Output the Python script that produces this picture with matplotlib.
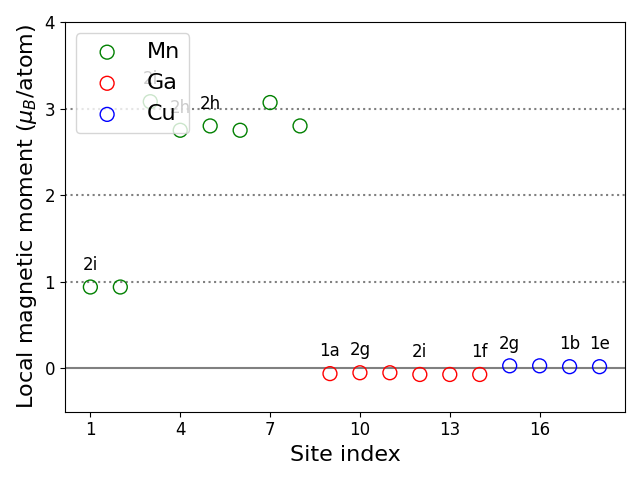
import matplotlib
matplotlib.use("Agg")
import matplotlib.pyplot as plt

mn_sites = [1, 2, 3, 4, 5, 6, 7, 8]
mn_vals = [0.94, 0.94, 3.08, 2.75, 2.80, 2.75, 3.07, 2.80]
ga_sites = [9, 10, 11, 12, 13, 14]
ga_vals = [-0.06, -0.05, -0.05, -0.07, -0.07, -0.07]
cu_sites = [15, 16, 17, 18]
cu_vals = [0.03, 0.03, 0.02, 0.02]

label_sites = [1, 3, 4, 5, 9, 10, 12, 14, 15, 17, 18]
label_texts = ["2i", "2i", "2h", "2h", "1a", "2g", "2i", "1f", "2g", "1b", "1e"]

fig, ax = plt.subplots(figsize=(6.4, 4.8), dpi=100)
for y in [1, 2, 3]:
    ax.axhline(y, color="gray", linestyle=":", linewidth=1.5, zorder=0)
ax.axhline(0, color="gray", linewidth=1.5, zorder=0)

ax.scatter(mn_sites, mn_vals, s=100, facecolors="none", edgecolors="green", label="Mn")
ax.scatter(ga_sites, ga_vals, s=100, facecolors="none", edgecolors="red", label="Ga")
ax.scatter(cu_sites, cu_vals, s=100, facecolors="none", edgecolors="blue", label="Cu")

all_sites = mn_sites + ga_sites + cu_sites
all_vals = mn_vals + ga_vals + cu_vals
for s, t in zip(label_sites, label_texts):
    v = all_vals[all_sites.index(s)]
    ax.text(s, v + 0.2, t, ha="center", va="baseline", fontsize=12)

ax.set_ylim(-0.5, 4)
ax.set_xticks([1, 4, 7, 10, 13, 16])
ax.set_yticks([0, 1, 2, 3, 4])
ax.tick_params(labelsize=12)
ax.set_xlabel("Site index", fontsize=16)
ax.set_ylabel(r"Local magnetic moment ($\mu_B$/atom)", fontsize=16)
ax.legend(loc="upper left", fontsize=16)
fig.tight_layout()
fig.savefig("out.png", dpi=100)
